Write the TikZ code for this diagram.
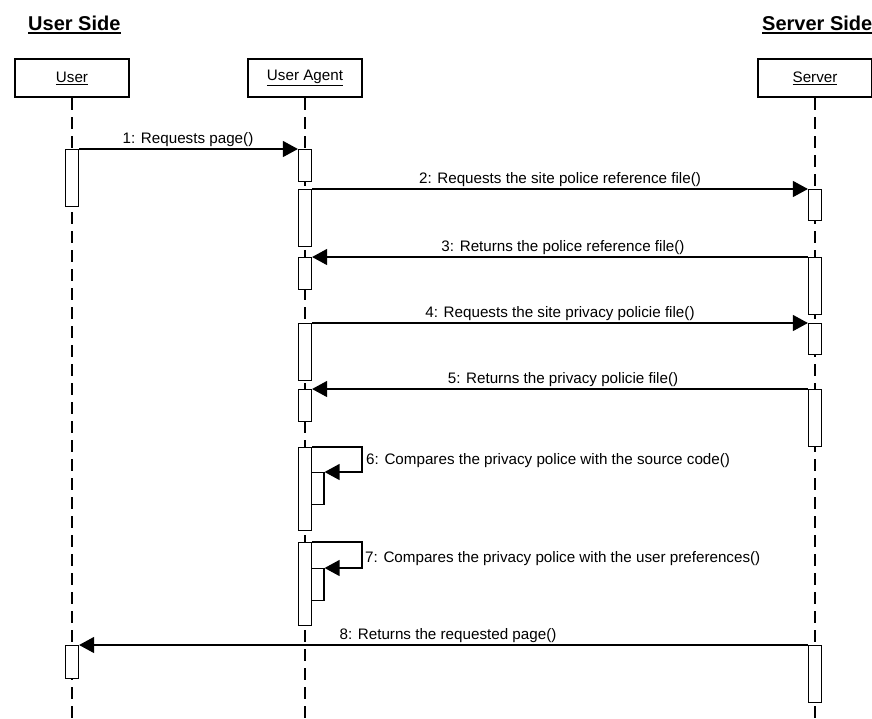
\documentclass[tikz,border=0pt]{standalone}
\usepackage{fontspec}
\setmainfont{Liberation Sans}
\usetikzlibrary{arrows.meta}
\begin{document}
\begin{tikzpicture}[x=1pt,y=-1pt,
  obj/.style={draw,line width=2pt,minimum width=114pt,minimum height=38pt,inner sep=0pt,anchor=north,fill=white,font=\fontsize{15.2}{18}\selectfont},
  life/.style={line width=1.2pt,dash pattern=on 12pt off 7pt},
  act/.style={draw,fill=white,line width=1.2pt,minimum width=13pt,inner sep=0pt,anchor=north},
  msg/.style={line width=1.3pt,-{Triangle[length=15pt,width=16pt]}},
  lbl/.style={font=\fontsize{15.2}{18}\selectfont,inner sep=0pt,anchor=base},
  lblw/.style={lbl,anchor=base west},
  ttl/.style={font=\fontsize{20}{24}\selectfont\bfseries,inner sep=0pt,anchor=base west},
]
\useasboundingbox (0,0) rectangle (872,718);
% titles
\node[ttl] (tU) at (28,30) {User Side};
\node[ttl] (tS) at (762,30) {Server Side};
\draw[line width=2pt] ([yshift=-3pt]tU.base west) -- ([yshift=-3pt]tU.base east);
\draw[line width=2pt] ([yshift=-3pt]tS.base west) -- ([yshift=-3pt]tS.base east);
% objects
\node[obj] (bU) at (72,58) {\underline{User}};
\node[obj] (bA) at (305,58) {\underline{User Agent}};
\node[obj] (bS) at (815,58) {\underline{Server}};
% lifelines
\draw[life] (bU.south) -- ++(0,622);
\draw[life] (bA.south) -- ++(0,622);
\draw[life] (bS.south) -- ++(0,622);
% activations
\node[act,minimum height=57pt] (u1) at (72,149) {};
\node[act,minimum height=33pt] (u2) at (72,645) {};
\node[act,minimum height=32pt] (a1) at (305,149) {};
\node[act,minimum height=57pt] (a2) at (305,189) {};
\node[act,minimum height=32pt] (a3) at (305,257) {};
\node[act,minimum height=57pt] (a4) at (305,323) {};
\node[act,minimum height=32pt] (a5) at (305,389) {};
\node[act,minimum height=83pt] (a6) at (305,447) {};
\node[act,minimum height=32pt,minimum width=12.5pt] (i6) at (317.75,472) {};
\node[act,minimum height=83pt] (a7) at (305,542) {};
\node[act,minimum height=32pt,minimum width=12.5pt] (i7) at (317.75,568) {};
\node[act,minimum height=31pt] (s1) at (815,189) {};
\node[act,minimum height=57pt] (s2) at (815,257) {};
\node[act,minimum height=31pt] (s3) at (815,323) {};
\node[act,minimum height=57pt] (s4) at (815,389) {};
\node[act,minimum height=57pt] (s5) at (815,645) {};
% messages
\draw[msg] (u1.north east) -- (a1.north west);
\draw[msg] (a2.north east) -- (s1.north west);
\draw[msg] (s2.north west) -- (a3.north east);
\draw[msg] (a4.north east) -- (s3.north west);
\draw[msg] (s4.north west) -- (a5.north east);
\draw[msg] (a6.north east) -- ++(50,0) |- (i6.north east);
\draw[msg] (a7.north east) -- ++(50,0) |- (i7.north east);
\draw[msg] (s5.north west) -- (u2.north east);
% labels
\node[lbl] (l1) at (188,143) {1: Requests page()};
\node[lbl] (l2) at (560,183) {2: Requests the site police reference file()};
\node[lbl] (l3) at (563,251) {3: Returns the police reference file()};
\node[lbl] (l4) at (560,317) {4: Requests the site privacy policie file()};
\node[lbl] (l5) at (563,383) {5: Returns the privacy policie file()};
\node[lblw] (l6) at (366,464.5) {6: Compares the privacy police with the source code()};
\node[lblw] (l7) at (365,562.5) {7: Compares the privacy police with the user preferences()};
\node[lbl] (l8) at (448,639) {8: Returns the requested page()};
\end{tikzpicture}
\end{document}
